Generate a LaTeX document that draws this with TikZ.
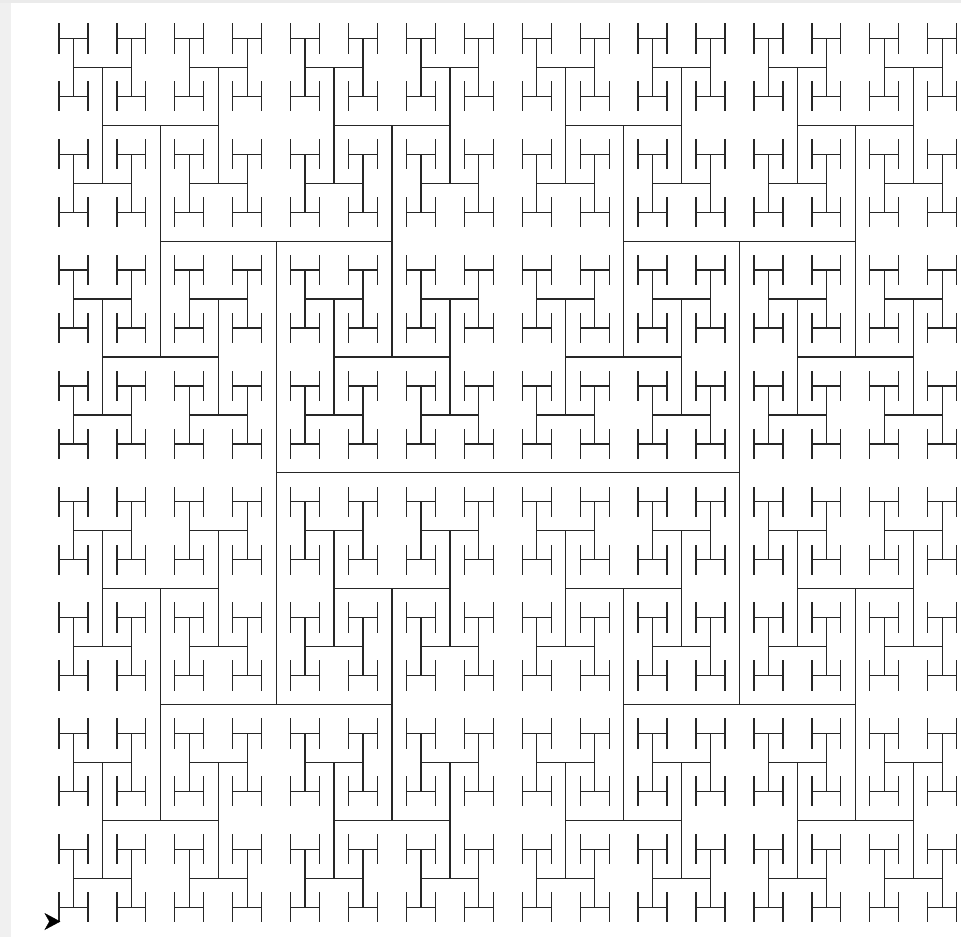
\documentclass[tikz,border=0pt]{standalone}
\usepackage{tikz}
\tikzset{
  treeline/.style={draw=black!85, line width=1.3pt, line cap=rect},
  turtle/.style={fill=black, draw=black, line width=0.4pt, line join=miter}
}
\newcommand\HtreeH[4]{%
  \begingroup
  \pgfmathsetmacro\hxa{#1-#3/2}%
  \pgfmathsetmacro\hxb{#1+#3/2}%
  \draw[treeline] (\hxa,#2) -- (\hxb,#2);%
  \ifnum#4>0
    \edef\hnext{\noexpand\HtreeV{\hxa}{#2}{#3}{#4}\noexpand\HtreeV{\hxb}{#2}{#3}{#4}}%
    \hnext
  \fi
  \endgroup}
\newcommand\HtreeV[4]{%
  \begingroup
  \pgfmathsetmacro\hya{#2-#3/2}%
  \pgfmathsetmacro\hyb{#2+#3/2}%
  \draw[treeline] (#1,\hya) -- (#1,\hyb);%
  \ifnum#4>1
    \pgfmathsetmacro\hhl{#3/2}%
    \edef\hnext{\noexpand\HtreeH{#1}{\hya}{\hhl}{\the\numexpr#4-1\relax}\noexpand\HtreeH{#1}{\hyb}{\hhl}{\the\numexpr#4-1\relax}}%
    \hnext
  \fi
  \endgroup}
\begin{document}
\begin{tikzpicture}[x=1pt,y=-1pt]
  \useasboundingbox (0,0) rectangle (961,937);
  \fill[white] (0,0) rectangle (961,937);
  \fill[black!6] (0,0) rectangle (11,937);
  \fill[black!8] (0,0) rectangle (961,2.5);
  \HtreeH{507.8}{472.8}{463.3}{5}
  \coordinate (tip) at (60,921.5);
  \fill[turtle] (tip) -- (45,913.5) -- (49.5,921.5) -- (45,929.5) -- cycle;
\end{tikzpicture}
\end{document}
